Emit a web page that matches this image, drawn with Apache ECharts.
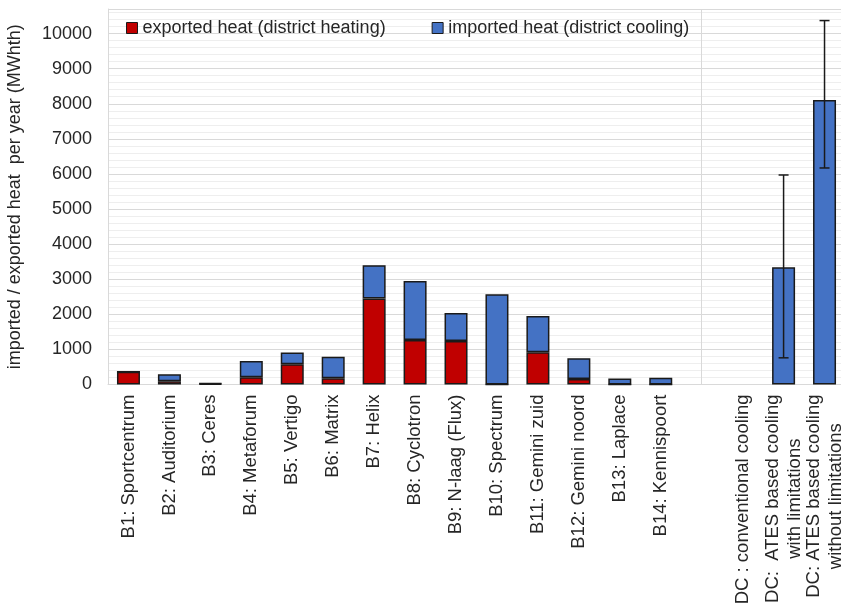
<!DOCTYPE html>
<html>
<head>
<meta charset="utf-8">
<script src="https://cdn.jsdelivr.net/npm/echarts@6/dist/echarts.min.js"></script>
<style>
  html, body { margin: 0; padding: 0; background: #ffffff; }
  #chart { width: 841px; height: 609px; }
</style>
</head>
<body>
<div id="chart"></div>
<script>
// Campus buildings and their yearly heat exchange with the district network (MWhth)
const buildings = [
  'B1: Sportcentrum', 'B2: Auditorium', 'B3: Ceres', 'B4: Metaforum', 'B5: Vertigo',
  'B6: Matrix', 'B7: Helix', 'B8: Cyclotron', 'B9: N-laag (Flux)', 'B10: Spectrum',
  'B11: Gemini zuid', 'B12: Gemini noord', 'B13: Laplace', 'B14: Kennispoort'
];
const exportedHeat = [360, 90, 20, 210, 580, 180, 2450, 1270, 1240, 0, 920, 160, 0, 0];
const importedHeat = [0, 200, 15, 460, 330, 610, 950, 1680, 800, 2570, 1030, 590, 170, 190];

// District cooling scenarios with their uncertainty range
const coolingOptions = [
  'DC : conventional cooling',
  'DC:  ATES based cooling\nwith limitations',
  'DC: ATES based cooling\nwithout limitations'
];
const coolingDemand = [null, 3340, 8110];
const coolingLow = [null, 760, 6170];
const coolingHigh = [null, 5970, 10370];

const yTickStep = 1000;

// One empty slot separates the buildings from the cooling scenarios
const categories = [...buildings, '', ...coolingOptions];
const gapIndex = buildings.length;
const exportedSeries = [...exportedHeat, null, ...coolingOptions.map(() => null)];
const importedSeries = [...importedHeat, null, ...coolingDemand];
const errorData = coolingOptions
  .map((_, i) => [gapIndex + 1 + i, coolingLow[i], coolingHigh[i]])
  .filter(d => d[1] != null);

const FONT = 'Liberation Sans';
const TEXT = '#262626';
const EDGE = '#1a1a1a';

const chart = echarts.init(document.getElementById('chart'), null, { renderer: 'canvas' });

chart.setOption({
  animation: false,
  backgroundColor: '#ffffff',
  textStyle: { fontFamily: FONT },
  grid: { left: 108, right: -4, top: 9, bottom: 224.5, outerBoundsMode: 'none', containLabel: false },
  legend: {
    data: ['exported heat (district heating)', 'imported heat (district cooling)'],
    left: 121,
    top: 14,
    icon: 'rect',
    itemWidth: 11,
    itemHeight: 11,
    itemGap: 46,
    itemStyle: { borderColor: EDGE, borderWidth: 1 },
    textStyle: { fontFamily: FONT, fontSize: 18, color: TEXT }
  },
  xAxis: {
    type: 'category',
    data: categories,
    axisLine: { show: true, lineStyle: { color: '#d9d9d9', width: 1 } },
    axisTick: { show: false },
    splitLine: { show: false },
    axisLabel: {
      interval: 0,
      rotate: 90,
      margin: 10,
      fontFamily: FONT,
      fontSize: 18.5,
      color: TEXT,
      lineHeight: 22,
      formatter: v => v.split('\n').map(l => '{c|' + l + '}').join('\n'),
      rich: { c: { align: 'center', fontFamily: FONT, fontSize: 18.5, color: TEXT, lineHeight: 22 } }
    }
  },
  yAxis: {
    type: 'value',
    min: 0,
    max: 10700,
    interval: yTickStep,
    name: 'imported / exported heat  per year (MWhth)',
    nameLocation: 'middle',
    nameGap: 84,
    nameMoveOverlap: false,
    nameTextStyle: { fontFamily: FONT, fontSize: 18, color: TEXT },
    axisLine: { show: true, lineStyle: { color: '#d9d9d9', width: 1 } },
    axisTick: { show: false },
    axisLabel: {
      margin: 16,
      fontFamily: FONT,
      fontSize: 18,
      color: TEXT,
      showMaxLabel: false,
      formatter: v => (v % yTickStep === 0 ? String(v) : '')
    },
    splitLine: { show: true, lineStyle: { color: '#d9d9d9', width: 1 } },
    minorTick: { show: false, splitNumber: 5 },
    minorSplitLine: { show: true, lineStyle: { color: '#eeeeee', width: 1 } }
  },
  series: [
    {
      name: 'exported heat (district heating)',
      type: 'bar',
      stack: 'heat',
      barWidth: 23,
      data: exportedSeries,
      itemStyle: { color: '#c00000', borderColor: EDGE, borderWidth: 1.5 }
    },
    {
      name: 'imported heat (district cooling)',
      type: 'bar',
      stack: 'heat',
      barWidth: 23,
      data: importedSeries,
      itemStyle: { color: '#4472c4', borderColor: EDGE, borderWidth: 1.5 },
      markLine: {
        silent: true,
        symbol: ['none', 'none'],
        label: { show: false },
        lineStyle: { color: '#d9d9d9', width: 1, type: 'solid' },
        data: [{ xAxis: gapIndex }]
      }
    },
    {
      name: 'range',
      type: 'custom',
      z: 5,
      data: errorData,
      encode: { x: 0, y: [1, 2] },
      renderItem: (params, api) => {
        const x = api.value(0);
        const lo = api.coord([x, api.value(1)]);
        const hi = api.coord([x, api.value(2)]);
        const cap = 5;
        const style = { stroke: EDGE, lineWidth: 1.5, fill: null };
        return {
          type: 'group',
          children: [
            { type: 'line', shape: { x1: lo[0], y1: lo[1], x2: hi[0], y2: hi[1] }, style },
            { type: 'line', shape: { x1: hi[0] - cap, y1: hi[1], x2: hi[0] + cap, y2: hi[1] }, style },
            { type: 'line', shape: { x1: lo[0] - cap, y1: lo[1], x2: lo[0] + cap, y2: lo[1] }, style }
          ]
        };
      }
    }
  ]
});
</script>
</body>
</html>
